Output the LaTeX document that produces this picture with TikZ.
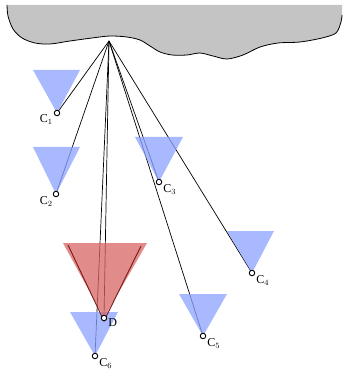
\documentclass[tikz,border=0pt]{standalone}
\usepackage{fontspec}
\setmainfont{Liberation Serif}
\usepackage{tikz}
\usetikzlibrary{positioning}
\definecolor{cloudgray}{RGB}{196,196,196}
\definecolor{conefill}{RGB}{140,162,255}
\definecolor{redfill}{RGB}{215,100,100}
\definecolor{rededge}{RGB}{120,25,25}
\tikzstyle{sensor} = [circle, draw=black, fill=white, line width=0.9pt, inner sep=0pt, minimum size=5.5pt]
\tikzstyle{cone} = [fill=conefill, fill opacity=0.75]
\tikzstyle{redcone} = [fill=redfill, fill opacity=0.75]
\tikzstyle{ray} = [line width=0.7pt, black]
\tikzstyle{lbl} = [font=\fontsize{12}{14}\selectfont, inner sep=1pt]

\begin{document}
\begin{tikzpicture}[x=1pt, y=-1pt]
		\useasboundingbox (0,0) rectangle (342,374);
		
		% cloud
		\fill [cloudgray] plot[smooth] coordinates {(7,5) (8,16) (13,29) (22,38) (35,43) (50,44) (70,41) (92,38) (110,36) (127,37) (140,40) (150,46) (160,52) (172,55) (187,55) (200,53) (213,56) (227,59) (243,55) (260,47) (278,43) (300,42) (322,38) (336,33) (341,22) (342,15)} -- (342,5) -- cycle;
		\draw [line width=0.8pt] plot[smooth] coordinates {(7,5) (8,16) (13,29) (22,38) (35,43) (50,44) (70,41) (92,38) (110,36) (127,37) (140,40) (150,46) (160,52) (172,55) (187,55) (200,53) (213,56) (227,59) (243,55) (260,47) (278,43) (300,42) (322,38) (336,33) (341,22) (342,15)};
		
		\coordinate (apex) at (109,41);
		\coordinate (C1) at (57,113);
		\coordinate (C2) at (56,194);
		\coordinate (C3) at (159,182);
		\coordinate (C4) at (252,273);
		\coordinate (C5) at (203,336);
		\coordinate (C6) at (95,356);
		\coordinate (D) at (104,318);
		
		\draw [ray] (apex) -- (C1);
		\draw [ray] (apex) -- (C2);
		\draw [ray] (apex) -- (C3);
		\draw [ray] (apex) -- (C4);
		\draw [ray] (apex) -- (C5);
		\draw [ray] (apex) -- (C6);
		\draw [ray] (apex) -- (D);
		
		% fields of view
		\fill [cone] (33,70) -- (80,70) -- (C1) -- cycle;
		\fill [cone] (33,147) -- (80,147) -- (C2) -- cycle;
		\fill [cone] (135,137) -- (183,137) -- (C3) -- cycle;
		\fill [cone] (227,231) -- (274,231) -- (C4) -- cycle;
		\fill [cone] (179,294) -- (227,294) -- (C5) -- cycle;
		\fill [cone] (70,312) -- (118,312) -- (C6) -- cycle;
		\fill [redcone] (63,243) -- (147,243) -- (D) -- cycle;
		\draw [rededge, line width=0.9pt] (68,245) -- ([yshift=-3pt]D) -- (141,246);
		
		\node (c1) [sensor] at (C1) {};
		\node (c2) [sensor] at (C2) {};
		\node (c3) [sensor] at (C3) {};
		\node (c4) [sensor] at (C4) {};
		\node (c5) [sensor] at (C5) {};
		\node (c6) [sensor] at (C6) {};
		\node (d) [sensor] at (D) {};
		
		\node [lbl, below left=-2pt and 1pt of c1] {C$_1$};
		\node [lbl, below left=-1pt and 0pt of c2] {C$_2$};
		\node [lbl, below right=-1pt and 1pt of c3] {C$_3$};
		\node [lbl, below right=-1pt and 1pt of c4] {C$_4$};
		\node [lbl, below right=-1pt and 1pt of c5] {C$_5$};
		\node [lbl, below right=-1pt and 1pt of c6] {C$_6$};
		\node [lbl, below right=-3pt and 1pt of d] {D};
	\end{tikzpicture}
\end{document}
